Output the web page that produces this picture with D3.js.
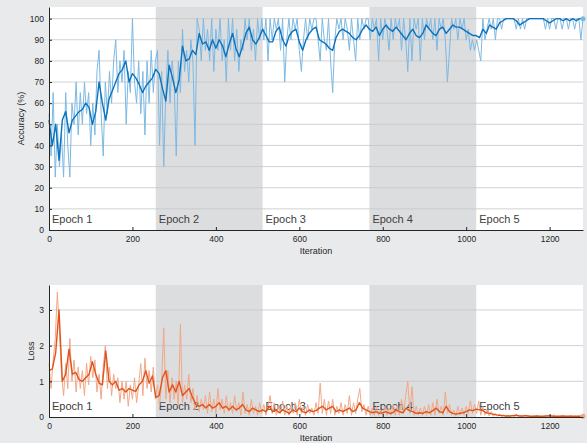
<!DOCTYPE html>
<html lang="en">
<head>
  <meta charset="UTF-8">
  <title>Training progress</title>
  <script src="https://d3js.org/d3.v7.min.js"></script>
  <style>
    body { margin: 0; background: #e9eaec; }
    text { font-family: "Liberation Sans", Arial, sans-serif; fill: #262626; }
    .epoch { font-size: 11px; fill: #404040; }
    .tick text { font-size: 8.5px; }
  </style>
</head>
<body>
  <div id="chart"></div>

<script>
  // data: raw values every 5 iterations, smoothed every 8
  const rawStep = 5, smoothStep = 8;
  const epochs = [1, 2, 3, 4, 5];
  const epochStarts = [0, 256, 512, 768, 1024];
  const xTicks = [0, 200, 400, 600, 800, 1000, 1200];
  const accTicks = [0, 10, 20, 30, 40, 50, 60, 70, 80, 90, 100];
  const lossTicks = [0, 1, 2, 3];

  const accRaw = [
    55, 35, 65, 25, 50, 30, 45, 25, 65, 40, 25, 60, 50, 70, 45, 65, 50, 70, 55, 65, 40, 60, 45, 75, 85, 55,
    35, 70, 55, 75, 60, 80, 90, 65, 80, 70, 85, 50, 75, 65, 100, 70, 60, 80, 55, 75, 45, 80, 60, 85, 65, 80,
    85, 40, 75, 30, 65, 85, 60, 80, 70, 35, 80, 65, 95, 75, 85, 70, 90, 80, 40, 100, 95, 80, 100, 85, 95, 80,
    100, 75, 95, 85, 100, 80, 90, 70, 100, 85, 100, 80, 95, 75, 90, 85, 100, 90, 100, 85, 95, 80, 100, 90, 100,
    90, 100, 80, 100, 90, 100, 95, 100, 85, 100, 70, 90, 100, 90, 100, 95, 100, 85, 75, 90, 100, 90, 100, 95,
    100, 100, 90, 80, 100, 90, 85, 100, 80, 65, 90, 100, 95, 100, 90, 100, 95, 85, 100, 90, 80, 100, 90, 100, 95, 100, 100,
    90, 100, 95, 100, 80, 100, 90, 100, 95, 85, 100, 90, 100, 95, 100, 85, 100, 90, 75, 100, 80, 100, 95, 100, 80,
    100, 90, 100, 95, 100, 90, 100, 85, 100, 95, 100, 90, 70, 85, 100, 95, 100, 90, 100, 95, 100, 90, 95, 85, 90, 85,
    90, 85, 80, 100, 90, 95, 100, 95, 100, 90, 100, 100, 95, 100, 100, 100, 100, 100, 100, 95, 100, 95, 100, 95, 100, 100,
    100, 100, 100, 100, 100, 100, 100, 95, 100, 95, 100, 100, 95, 100, 100, 95, 100, 100, 95, 100, 100, 95, 100, 100, 90, 100
  ];

  const accSmooth = [
    52, 40, 50, 33, 52, 56, 46, 52, 54, 56, 57, 60, 58, 50, 56, 70, 60, 52, 62, 66, 70, 74, 76, 80, 70, 74, 72,
    69, 65, 68, 70, 72, 76, 74, 67, 61, 78, 72, 65, 71, 87, 80, 81, 85, 83, 93, 88, 89, 85, 90, 86, 90, 87, 82,
    88, 93, 86, 82, 87, 93, 96, 90, 88, 91, 95, 92, 89, 89, 94, 96, 90, 87, 92, 94, 95, 89, 85, 90, 93, 95, 96,
    90, 89, 88, 86, 85, 91, 94, 95, 94, 93, 91, 90, 92, 95, 97, 95, 94, 96, 92, 95, 97, 95, 94, 96, 94, 92, 90,
    93, 95, 92, 91, 93, 97, 95, 93, 92, 95, 96, 93, 95, 97, 96, 96, 95, 94, 93, 92, 92, 91, 95, 93, 97, 96, 95,
    98, 99, 100, 100, 100, 99, 97, 98, 99, 100, 100, 100, 100, 100, 99, 98, 99, 100, 100, 99, 100, 99, 100, 99, 100, 100
  ];

  const lossRaw = [
    1.5, 0.8, 1.6, 2.2, 3.5, 2.4, 1.2, 0.6, 1.5, 0.8, 2.2, 1.0, 1.6, 0.7, 1.4, 0.8, 1.3, 0.6, 1.5, 0.9, 1.7, 1.1,
    1.6, 0.7, 1.2, 0.5, 1.4, 2.0, 0.8, 1.4, 0.6, 1.2, 0.8, 1.1, 0.4, 1.0, 0.5, 1.0, 0.3, 0.9, 0.5, 1.1, 0.4, 0.9,
    1.5, 0.6, 1.65, 0.8, 1.3, 0.7, 1.4, 0.5,
    0.9, 0.3, 1.0, 2.5, 0.5, 1.3, 0.4, 1.1, 0.5, 1.0, 0.3, 2.6, 0.4, 0.9, 0.5, 1.2, 0.4, 0.8, 0.2, 0.6, 0.15, 0.5,
    0.2, 0.6, 0.1, 0.7, 0.15, 0.5, 0.1, 0.8, 0.2, 0.5, 0.1, 0.6, 0.15, 0.4, 0.1, 0.6, 0.15, 0.4, 0.05, 0.7, 0.1,
    0.35, 0.05, 0.5, 0.1, 0.3, 0.05, 0.4, 0.1,
    0.35, 0.05, 0.3, 0.6, 0.1, 0.4, 0.05, 0.3, 0.1, 0.45, 0.05, 0.3, 0.05, 0.35, 0.1, 0.4, 0.05, 0.5, 0.1, 0.3,
    0.05, 0.35, 0.1, 0.25, 0.05, 0.4, 0.1, 0.95, 0.1, 0.5, 0.05, 0.45, 0.1, 0.5, 0.05, 0.3, 0.1, 0.4, 0.05, 0.35,
    0.1, 0.6, 0.05, 0.4, 0.1, 0.5, 0.8, 0.15, 0.35, 0.05, 0.3,
    0.05, 0.25, 0.05, 0.3, 0.05, 0.2, 0.05, 0.3, 0.05, 0.25, 0.05, 0.35, 0.05, 0.3, 0.05, 0.5, 0.1, 0.6, 1.0, 0.1,
    0.85, 0.05, 0.3, 0.05, 0.25, 0.05, 0.3, 0.05, 0.35, 0.05, 0.4, 0.05, 0.5, 0.1, 0.3, 0.05, 0.7, 0.1, 0.35, 0.05,
    0.2, 0.02, 0.3, 0.05, 0.25, 0.05, 0.3, 0.1, 0.45, 0.1, 0.35,
    0.1, 0.45, 0.05, 0.3, 0.05, 0.2, 0.03, 0.15, 0.02, 0.1, 0.02, 0.08, 0.01, 0.06, 0.01, 0.05, 0.01, 0.04, 0.01,
    0.08, 0.01, 0.03, 0.01, 0.05, 0.01, 0.03, 0.01, 0.02, 0.01, 0.04, 0.01, 0.02, 0.01, 0.03, 0.01, 0.02, 0.01,
    0.06, 0.01, 0.02, 0.01, 0.03, 0.01, 0.02, 0.01, 0.04, 0.01, 0.02, 0.01, 0.03, 0.01, 0.02
  ];

  const lossSmooth = [
    1.3, 1.35, 1.8, 3.0, 1.0, 1.2, 1.9, 1.2, 1.25, 1.05, 1.0, 1.1, 1.2, 1.55, 1.2, 0.95, 0.9, 1.85, 1.0, 0.9, 1.0,
    0.75, 0.8, 0.7, 0.8, 0.75, 0.72, 0.9, 1.0, 1.3, 0.95, 1.15, 0.55, 0.6, 1.1, 1.3, 0.7, 0.9, 0.7, 1.0, 0.6, 0.7,
    0.8, 0.55, 0.35, 0.3, 0.35, 0.25, 0.35, 0.25, 0.3, 0.4, 0.25, 0.3, 0.2, 0.3, 0.2, 0.25, 0.35, 0.2, 0.15, 0.25,
    0.2, 0.15, 0.2, 0.15, 0.3, 0.15, 0.2, 0.12, 0.2, 0.15, 0.1, 0.2, 0.15, 0.25, 0.15, 0.12, 0.2, 0.15, 0.18, 0.25,
    0.3, 0.2, 0.25, 0.3, 0.15, 0.2, 0.15, 0.2, 0.25, 0.15, 0.2, 0.4, 0.25, 0.2, 0.15, 0.12, 0.15, 0.1, 0.12, 0.15,
    0.1, 0.12, 0.2, 0.15, 0.12, 0.25, 0.18, 0.15, 0.1, 0.12, 0.1, 0.15, 0.12, 0.18, 0.25, 0.15, 0.12, 0.3, 0.15,
    0.1, 0.08, 0.1, 0.12, 0.15, 0.2, 0.18, 0.22, 0.2, 0.18, 0.12, 0.1, 0.08, 0.06, 0.05, 0.04, 0.03, 0.03, 0.04,
    0.05, 0.03, 0.03, 0.04, 0.02, 0.02, 0.03, 0.02, 0.02, 0.03, 0.04, 0.02, 0.02, 0.02, 0.03, 0.02, 0.02, 0.02,
    0.02, 0.02, 0.02
  ];

  const w = 587, h = 443;
  const maxIter = 1280;

  const svg = d3.select("#chart").append("svg")
    .attr("width", w)
    .attr("height", h)

  const x = d3.scaleLinear().domain([0, maxIter]).range([49, 583]);

  function drawPanel(opts) {
    const y = d3.scaleLinear().domain(opts.domain).range([opts.bottom, opts.top]);
    const g = svg.append("g");

    // white plot area
    g.append("rect")
      .attr("x", x(0)).attr("y", opts.top)
      .attr("width", x(maxIter) - x(0)).attr("height", opts.bottom - opts.top)
      .attr("fill", "#fff");

    // shaded epochs 2 and 4
    g.selectAll(".band")
      .data(epochStarts.filter((d, i) => i % 2 === 1))
      .enter()
      .append("rect")
      .attr("x", (d) => x(d))
      .attr("y", opts.top)
      .attr("width", x(256) - x(0))
      .attr("height", opts.bottom - opts.top)
      .attr("fill", "#dcdddf");

    // horizontal grid
    g.selectAll(".grid")
      .data(opts.ticks.filter((d) => d > 0))
      .enter()
      .append("line")
      .attr("x1", x(0)).attr("x2", x(maxIter))
      .attr("y1", (d) => y(d)).attr("y2", (d) => y(d))
      .attr("stroke", "#c4c6c8")
      .attr("stroke-width", 0.8);

    // epoch labels
    g.selectAll(".epoch")
      .data(epochs)
      .enter()
      .append("text")
      .attr("class", "epoch")
      .attr("x", (d, i) => x(epochStarts[i]) + 3)
      .attr("y", opts.bottom - 7)
      .text((d) => "Epoch " + d);

    const rawLine = d3.line()
      .x((d, i) => x(i * rawStep))
      .y((d) => y(d));
    const smoothLine = d3.line()
      .x((d, i) => x(i * smoothStep))
      .y((d) => y(d));

    g.append("path")
      .attr("d", rawLine(opts.raw))
      .attr("fill", "none")
      .attr("stroke", opts.light)
      .attr("stroke-width", 1);

    g.append("path")
      .attr("d", smoothLine(opts.smooth))
      .attr("fill", "none")
      .attr("stroke", opts.dark)
      .attr("stroke-width", 1.4)
      .attr("stroke-linejoin", "round");

    // last point marker
    g.append("circle")
      .attr("cx", x(maxIter))
      .attr("cy", y(opts.raw[opts.raw.length - 1]))
      .attr("r", 2.5)
      .attr("fill", opts.light);

    // AXES
    const fmt = d3.format("d");
    const xAxis = g.append("g")
      .attr("transform", `translate(0,${opts.bottom})`)
      .call(d3.axisBottom(x).tickValues(xTicks).tickFormat(fmt).tickSizeInner(-3).tickSizeOuter(0).tickPadding(6));
    const yAxis = g.append("g")
      .attr("transform", `translate(${x(0)},0)`)
      .call(d3.axisLeft(y).tickValues(opts.ticks).tickFormat(fmt).tickSizeInner(-3).tickSizeOuter(0).tickPadding(5));
    [xAxis, yAxis].forEach((a) => {
      a.select(".domain").attr("stroke", "#262626");
      a.selectAll(".tick line").attr("stroke", "#262626");
      a.selectAll(".tick text").attr("fill", "#262626");
    });

    g.append("text")
      .attr("x", (x(0) + x(maxIter)) / 2)
      .attr("y", opts.bottom + 24)
      .attr("text-anchor", "middle")
      .style("font-size", "9px")
      .text("Iteration");

    g.append("text")
      .attr("transform", `translate(${opts.labelX},${(opts.top + opts.bottom) / 2}) rotate(-90)`)
      .attr("text-anchor", "middle")
      .style("font-size", "9px")
      .text(opts.label);
  }

  drawPanel({
    top: 7, bottom: 230, domain: [0, 105.5], ticks: accTicks,
    raw: accRaw, smooth: accSmooth, light: "#7db9e3", dark: "#0b72bd",
    label: "Accuracy (%)", labelX: 24
  });

  drawPanel({
    top: 285, bottom: 417, domain: [0, 3.7], ticks: lossTicks,
    raw: lossRaw, smooth: lossSmooth, light: "#f2a888", dark: "#e0541a",
    label: "Loss", labelX: 34
  });
</script>
</body>
</html>
